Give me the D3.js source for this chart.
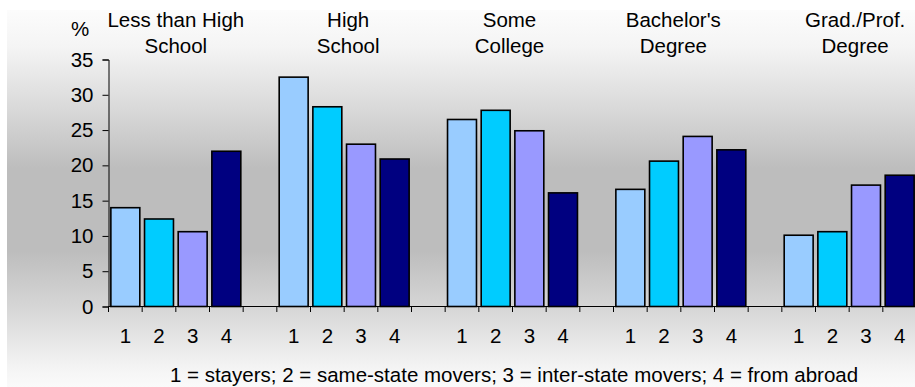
<!DOCTYPE html>
<html>
<head>
<meta charset="utf-8">
<script src="https://cdn.jsdelivr.net/npm/d3@7"></script>
<style>
  html, body { margin: 0; padding: 0; background: #ffffff; }
  svg { display: block; }
  text { font-family: "Liberation Sans", Arial, sans-serif; fill: #000; }
</style>
</head>
<body>
<svg id="chart" width="915" height="387"></svg>
<script>
// Education level groups (two-line headings above each cluster)
const groupTitles = [
  ["Less than High", "School"],
  ["High", "School"],
  ["Some", "College"],
  ["Bachelor's", "Degree"],
  ["Grad./Prof.", "Degree"]
];
// Mover categories shown as numbered bars in each group
const moverCodes = ["1", "2", "3", "4"];
// Percent distribution across education levels, per mover category
const stayers    = [14.0, 32.5, 26.5, 16.6, 10.1];
const sameState  = [12.4, 28.3, 27.8, 20.6, 10.6];
const interState = [10.6, 23.0, 24.9, 24.1, 17.2];
const fromAbroad = [22.0, 20.9, 16.1, 22.2, 18.6];
const yTicks = [0, 5, 10, 15, 20, 25, 30, 35];
const footnote = "1 = stayers; 2 = same-state movers; 3 = inter-state movers; 4 = from abroad";

const seriesValues = [stayers, sameState, interState, fromAbroad];
const barColors = ["#99CCFF", "#00CCFF", "#9999FF", "#000080"];

const svg = d3.select("#chart");
const W = 915, H = 387;
const FONT = 20.5;

// Background panel with a vertical grey band through the middle
const defs = svg.append("defs");
const grad = defs.append("linearGradient")
  .attr("id", "bg").attr("x1", 0).attr("y1", 0).attr("x2", 0).attr("y2", 1);
[[0, "#fcfcfc"], [0.1, "#f4f4f4"], [0.28, "#d6d6d6"], [0.42, "#bdbdbd"], [0.64, "#bdbdbd"], [0.8, "#d8d8d8"], [0.95, "#f4f4f4"], [1, "#fafafa"]]
  .forEach(([o, c]) => grad.append("stop").attr("offset", o).attr("stop-color", c));
svg.append("rect").attr("x", 7).attr("y", 10).attr("width", W - 7).attr("height", H - 10)
  .attr("fill", "url(#bg)");

// Slots: four bars per group plus one empty slot between groups
const slots = [];
groupTitles.forEach((g, gi) => {
  moverCodes.forEach((m, mi) => slots.push({ key: `g${gi}-${m}`, group: gi, series: mi, label: m }));
  if (gi < groupTitles.length - 1) slots.push({ key: `gap${gi}`, group: gi, series: -1, label: "" });
});

const x = d3.scaleBand()
  .domain(slots.map(s => s.key))
  .range([108.5, 916.5])
  .paddingInner(0.14)
  .paddingOuter(0.07);
const step = x.step();

const y = d3.scaleLinear().domain([0, 35]).range([306.5, 59.5]);

// Bars
const bars = slots.filter(s => s.series >= 0).map(s => ({
  ...s, value: seriesValues[s.series][s.group]
}));
svg.append("g").selectAll("rect").data(bars).join("rect")
  .attr("x", d => x(d.key))
  .attr("y", d => y(d.value))
  .attr("width", x.bandwidth())
  .attr("height", d => y(0) - y(d.value))
  .attr("fill", d => barColors[d.series])
  .attr("stroke", "#000")
  .attr("stroke-width", 1.6);

// Y axis
const yAxis = svg.append("g").attr("transform", "translate(108.5,0)")
  .call(d3.axisLeft(y).tickValues(yTicks).tickSize(6).tickPadding(9));
yAxis.select(".domain").attr("stroke", "#000");
yAxis.selectAll(".tick line").attr("stroke", "#000");
yAxis.selectAll(".tick text").style("font-size", FONT + "px")
  .style("font-family", '"Liberation Sans", Arial, sans-serif').attr("fill", "#000");

// X axis: ticks on slot boundaries, labels centred under each bar
const boundaries = d3.range(slots.length + 1).map(i => 108.5 + i * step);
const xg = svg.append("g");
xg.append("line").attr("x1", 108.5).attr("x2", 916.5).attr("y1", y(0)).attr("y2", y(0))
  .attr("stroke", "#000");
xg.selectAll("line.tk").data(boundaries).join("line").attr("class", "tk")
  .attr("x1", d => d).attr("x2", d => d)
  .attr("y1", y(0)).attr("y2", y(0) + 5.5).attr("stroke", "#000");
xg.selectAll("text").data(slots.filter(s => s.label)).join("text")
  .attr("x", d => x(d.key) + x.bandwidth() / 2)
  .attr("y", 343)
  .attr("text-anchor", "middle")
  .style("font-size", FONT + "px")
  .text(d => d.label);

// Percent unit label
svg.append("text").attr("x", 80).attr("y", 36).attr("text-anchor", "middle")
  .style("font-size", FONT + "px").text("%");

// Group headings
const titleShift = [0, 4, -3, -7.5, 6];
groupTitles.forEach((lines, gi) => {
  const first = x(`g${gi}-1`), last = x(`g${gi}-4`) + x.bandwidth();
  const cx = (first + last) / 2 + titleShift[gi];
  lines.forEach((ln, li) => {
    svg.append("text").attr("x", cx).attr("y", 26.5 + li * 26.8)
      .attr("text-anchor", "middle").style("font-size", FONT + "px").text(ln);
  });
});

// Legend note for the numeric codes
svg.append("text").attr("x", 514).attr("y", 382).attr("text-anchor", "middle")
  .style("font-size", FONT + "px").text(footnote);
</script>
</body>
</html>
